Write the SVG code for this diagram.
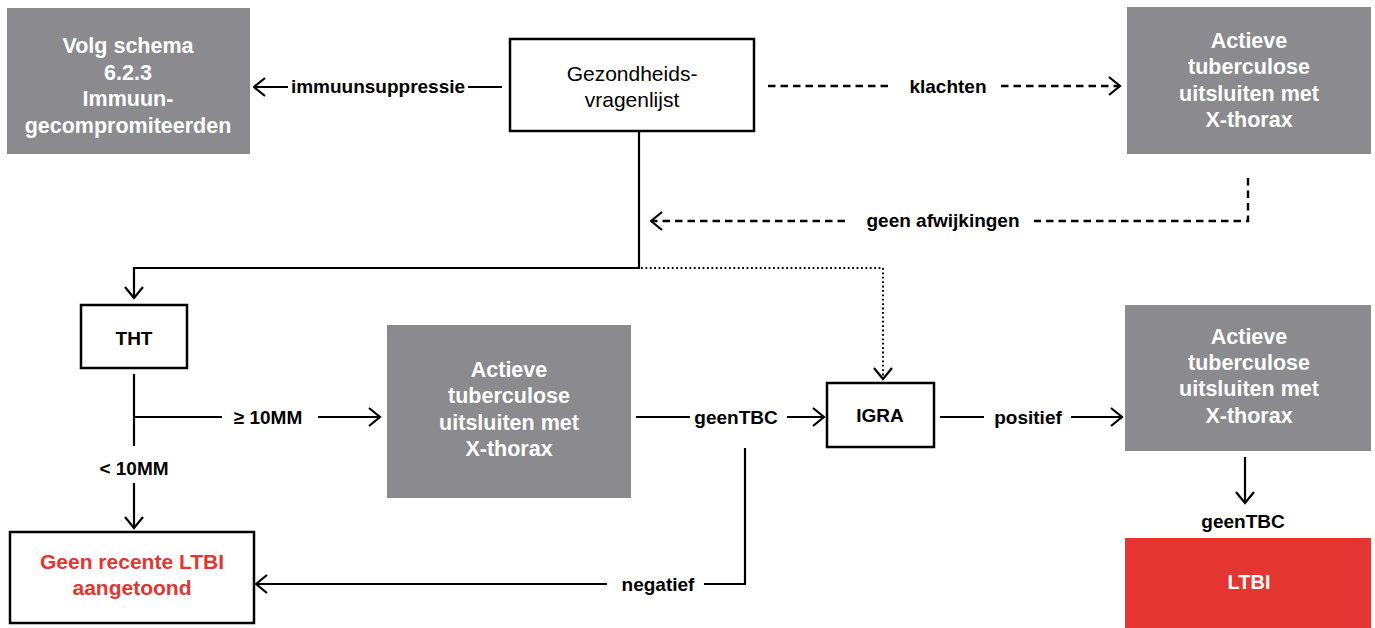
<svg xmlns="http://www.w3.org/2000/svg" width="1375" height="628" viewBox="0 0 1375 628">
<style>
  .gray { fill: #8b8b8f; }
  .box { fill: #ffffff; stroke: #000000; stroke-width: 2.5; }
  .red { fill: #e53530; }
  .wt { font-family: "Liberation Sans", Arial, sans-serif; font-weight: bold; font-size: 21.5px; fill: #ffffff; text-anchor: middle; }
  .bt { font-family: "Liberation Sans", Arial, sans-serif; font-weight: bold; font-size: 19px; fill: #000000; text-anchor: middle; }
  .rt { font-family: "Liberation Sans", Arial, sans-serif; font-weight: bold; font-size: 21px; fill: #e53530; text-anchor: middle; }
  .nt { font-family: "Liberation Sans", Arial, sans-serif; font-size: 21px; fill: #000000; text-anchor: middle; }
  .ln { fill: none; stroke: #000000; stroke-width: 2.2; }
  .dash { fill: none; stroke: #000000; stroke-width: 2.4; stroke-dasharray: 7.5 5; }
  .dot { fill: none; stroke: #000000; stroke-width: 2; stroke-dasharray: 1.8 2.6; }
</style>
<defs>
  <marker id="arr" markerUnits="userSpaceOnUse" viewBox="0 0 14 21" markerWidth="14" markerHeight="21" refX="12.5" refY="10.5" orient="auto">
    <polyline points="1.5,1.5 12.5,10.5 1.5,19.5" fill="none" stroke="#000000" stroke-width="2.2" stroke-dasharray="none"/>
  </marker>
</defs>
<rect width="1375" height="628" fill="#ffffff"/>

<g id="n-immuun">
  <rect class="gray" x="7" y="8" width="243" height="146"/>
  <text class="wt" x="128" y="53">Volg schema</text>
  <text class="wt" x="128" y="80">6.2.3</text>
  <text class="wt" x="128" y="106">Immuun-</text>
  <text class="wt" x="128" y="133">gecompromiteerden</text>
</g>

<g id="n-gezondheid">
  <rect class="box" x="510" y="39" width="244" height="92"/>
  <text class="nt" x="632" y="81">Gezondheids-</text>
  <text class="nt" x="632" y="107">vragenlijst</text>
</g>

<g id="n-actieve1">
  <rect class="gray" x="1127" y="7" width="244" height="147"/>
  <text class="wt" x="1249" y="48">Actieve</text>
  <text class="wt" x="1249" y="74">tuberculose</text>
  <text class="wt" x="1249" y="101">uitsluiten met</text>
  <text class="wt" x="1249" y="127">X-thorax</text>
</g>

<g id="n-tht">
  <rect class="box" x="81" y="305" width="106" height="63"/>
  <text class="bt" x="134" y="345">THT</text>
</g>

<g id="n-actieve2">
  <rect class="gray" x="387" y="325" width="244" height="173"/>
  <text class="wt" x="509" y="377">Actieve</text>
  <text class="wt" x="509" y="403">tuberculose</text>
  <text class="wt" x="509" y="430">uitsluiten met</text>
  <text class="wt" x="509" y="456">X-thorax</text>
</g>

<g id="n-igra">
  <rect class="box" x="827" y="383" width="107" height="64"/>
  <text class="bt" x="880" y="422">IGRA</text>
</g>

<g id="n-actieve3">
  <rect class="gray" x="1125" y="305" width="246" height="146"/>
  <text class="wt" x="1249" y="344">Actieve</text>
  <text class="wt" x="1249" y="370">tuberculose</text>
  <text class="wt" x="1249" y="396">uitsluiten met</text>
  <text class="wt" x="1249" y="423">X-thorax</text>
</g>

<g id="n-geen-ltbi">
  <rect class="box" x="10" y="532" width="244" height="91"/>
  <text class="rt" x="132" y="569">Geen recente LTBI</text>
  <text class="rt" x="132" y="595">aangetoond</text>
</g>

<g id="n-ltbi">
  <rect class="red" x="1125" y="538" width="246" height="90"/>
  <text class="wt" x="1249" y="589" style="font-size:20px">LTBI</text>
</g>

<g id="connectors">
  <path class="ln" d="M502,87 H468"/>
  <path class="ln" d="M288,87 H254" marker-end="url(#arr)"/>
  <text class="bt" x="378" y="93">immuunsuppressie</text>

  <path class="dash" d="M768,86 H892"/>
  <path class="dash" d="M1001,86 H1120" marker-end="url(#arr)"/>
  <text class="bt" x="948" y="93">klachten</text>

  <path class="dash" d="M1248,178 V221 H1034"/>
  <path class="dash" d="M845,221 H651" marker-end="url(#arr)"/>
  <text class="bt" x="943" y="227">geen afwijkingen</text>

  <path class="ln" d="M639,131 V268 H134 V298" marker-end="url(#arr)"/>
  <path class="dot" d="M641,268 H883 V379" marker-end="url(#arr)"/>

  <path class="ln" d="M134,374 V446"/>
  <path class="ln" d="M135,417 H222"/>
  <path class="ln" d="M318,417 H380" marker-end="url(#arr)"/>
  <text class="bt" x="268" y="424">≥ 10MM</text>

  <text class="bt" x="134" y="475">&lt; 10MM</text>
  <path class="ln" d="M134,483 V528" marker-end="url(#arr)"/>

  <path class="ln" d="M636,417 H690"/>
  <path class="ln" d="M787,417 H824" marker-end="url(#arr)"/>
  <text class="bt" x="736" y="424">geenTBC</text>

  <path class="ln" d="M745,448 V584 H704"/>
  <path class="ln" d="M607,584 H256" marker-end="url(#arr)"/>
  <text class="bt" x="658" y="591">negatief</text>

  <path class="ln" d="M940,417 H984"/>
  <path class="ln" d="M1071,417 H1122" marker-end="url(#arr)"/>
  <text class="bt" x="1028" y="424">positief</text>

  <path class="ln" d="M1245,457 V503" marker-end="url(#arr)"/>
  <text class="bt" x="1243" y="528">geenTBC</text>
</g>
</svg>
